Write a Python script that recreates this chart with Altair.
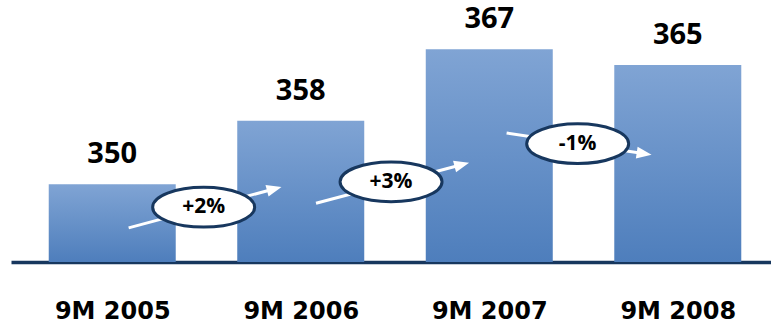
import altair as alt
import pandas as pd

# --- data ---
categories = ["9M 2005", "9M 2006", "9M 2007", "9M 2008"]
values = [350, 358, 367, 365]

# growth annotations (between consecutive bars)
growth_labels = ["+2%", "+3%", "-1%"]
ellipse_x = [0.485, 1.479, 2.469]
ellipse_y = [347.1, 350.3, 355.1]
arrow_x_start = [0.087, 1.081, 2.092]
arrow_y_start = [344.5, 347.6, 356.45]
arrow_x_tip = [0.898, 1.893, 2.861]
arrow_y_tip = [349.65, 352.7, 353.7]
arrow_angle = [345.2, 345.5, 8.5]

Y_MIN, Y_MAX = 340.2, 373.2
X_MIN, X_MAX = -0.5105, 3.468

bars = pd.DataFrame({"idx": list(range(len(categories))), "cat": categories, "value": values})
ann = pd.DataFrame({
    "label": growth_labels, "ex": ellipse_x, "ey": ellipse_y,
    "x0": arrow_x_start, "y0": arrow_y_start, "x1": arrow_x_tip, "y1": arrow_y_tip,
    "ang": arrow_angle,
})

NAVY = "#17375e"
FONT = "Open Sans"

label_expr = "[" + ",".join("'%s'" % c for c in categories) + "][datum.value]"

xscale = alt.Scale(domain=[X_MIN, X_MAX], nice=False, zero=False)
yscale = alt.Scale(domain=[Y_MIN, Y_MAX], nice=False, zero=False)

xenc = alt.X("idx:Q", scale=xscale, axis=alt.Axis(
    values=list(range(len(categories))), labelExpr=label_expr, title=None,
    grid=False, ticks=False, tickSize=0, labelPadding=37, labelFont="DejaVu Sans",
    labelFontSize=24, labelFontWeight="bold", labelColor="#000000",
    domainColor=NAVY, domainWidth=3.5, labelFlush=False, labelOverlap=False))
yenc = alt.Y("value:Q", scale=yscale, axis=None)

gradient = {
    "gradient": "linear", "x1": 0, "y1": 0, "x2": 0, "y2": 1,
    "stops": [{"offset": 0, "color": "#80a4d4"}, {"offset": 1, "color": "#4e7ebc"}],
}

bar_layer = alt.Chart(bars).mark_bar(size=127, color=gradient).encode(
    x=xenc, y=yenc, y2=alt.datum(Y_MIN)
)

value_text = alt.Chart(bars).mark_text(
    dy=-30, fontSize=29, fontWeight="bold", font=FONT, color="#000000", baseline="middle"
).encode(
    x=alt.X("idx:Q", scale=xscale), y=alt.Y("value:Q", scale=yscale), text="value:Q"
)

shaft = alt.Chart(ann).transform_calculate(
    xe="datum.x0 + 0.92 * (datum.x1 - datum.x0)",
    ye="datum.y0 + 0.92 * (datum.y1 - datum.y0)",
).mark_rule(color="white", strokeWidth=3).encode(
    x=alt.X("x0:Q", scale=xscale), y=alt.Y("y0:Q", scale=yscale),
    x2="xe:Q", y2="ye:Q",
)

head_path = "M -2 -0.8 L 0 0 L -2 0.8 Z"
head = alt.Chart(ann).mark_point(
    shape=head_path, size=225, filled=True, fill="white", stroke="white",
    strokeWidth=0, opacity=1
).encode(
    x=alt.X("x1:Q", scale=xscale), y=alt.Y("y1:Q", scale=yscale),
    angle=alt.Angle("ang:Q", scale=None),
)

ellipse_path = ("M -1 0 C -1 -0.215 -0.552 -0.39 0 -0.39 C 0.552 -0.39 1 -0.215 1 0 "
                "C 1 0.215 0.552 0.39 0 0.39 C -0.552 0.39 -1 0.215 -1 0 Z")
ellipse = alt.Chart(ann).mark_point(
    shape=ellipse_path, size=10404, filled=True, fill="white", stroke=NAVY,
    strokeWidth=3, opacity=1, strokeOpacity=1, fillOpacity=1
).encode(
    x=alt.X("ex:Q", scale=xscale), y=alt.Y("ey:Q", scale=yscale),
)

ellipse_text = alt.Chart(ann).mark_text(
    fontSize=21, fontWeight="bold", font=FONT, color="#000000", baseline="middle"
).encode(
    x=alt.X("ex:Q", scale=xscale), y=alt.Y("ey:Q", scale=yscale), text="label:N"
)

chart = alt.layer(bar_layer, value_text, shaft, head, ellipse, ellipse_text).properties(
    width=760, height=262,
    autosize=alt.AutoSizeParams(type="none"),
    padding={"left": 11, "top": 0, "right": 0, "bottom": 61},
    background="white",
).configure_view(stroke=None)

chart.save("out.html", embed_options={"renderer": "svg", "actions": False})
